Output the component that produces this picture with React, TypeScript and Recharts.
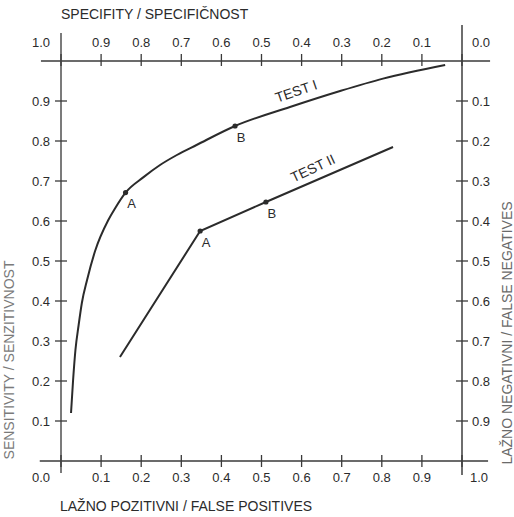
import React from "react";
import {
  ComposedChart,
  Line,
  Scatter,
  XAxis,
  YAxis,
  ReferenceLine,
  ReferenceDot,
} from "recharts";

// axis ticks
const fullTicks = [0, 0.1, 0.2, 0.3, 0.4, 0.5, 0.6, 0.7, 0.8, 0.9, 1];
const innerTicks = [0.1, 0.2, 0.3, 0.4, 0.5, 0.6, 0.7, 0.8, 0.9];

// Test I curve (false positives -> sensitivity)
const test1Fp = [0.025, 0.03, 0.036, 0.044, 0.052, 0.065, 0.085, 0.118, 0.135, 0.161, 0.205, 0.247, 0.289, 0.338, 0.434, 0.571, 0.696, 0.803, 0.958];
const test1Sens = [0.12, 0.2, 0.2775, 0.34, 0.395, 0.4525, 0.525, 0.6025, 0.632, 0.671, 0.709, 0.74, 0.765, 0.79, 0.8375, 0.885, 0.925, 0.956, 0.99];

// Test II polyline
const test2Fp = [0.147, 0.347, 0.511, 0.828];
const test2Sens = [0.26, 0.575, 0.6475, 0.785];

// marked cut-off points
const pointNames = ["A", "B"];
const test1PointFp = [0.161, 0.434];
const test1PointSens = [0.671, 0.8375];
const test2PointFp = [0.347, 0.511];
const test2PointSens = [0.575, 0.6475];

const font = '"Liberation Sans", Arial, Helvetica, sans-serif';
const ink = "#2b2b2b";
const axisInk = "#3a3a3a";

const test1Data = test1Fp.map((fp, i) => ({ fp, sens: test1Sens[i] }));
// Test II sits on the specificity / false-negative axes (1 - fp, 1 - sens)
const test2Data = test2Fp.map((fp, i) => ({ spec: 1 - fp, fn: 1 - test2Sens[i] }));
const test1Points = pointNames.map((name, i) => ({ fp: test1PointFp[i], sens: test1PointSens[i], name }));
const test2Points = pointNames.map((name, i) => ({ spec: 1 - test2PointFp[i], fn: 1 - test2PointSens[i], name }));

// cross ticks on the four frame lines
const bottomMarks = fullTicks.map((v) => ({ fp: v, sens: 0 }));
const topMarks = fullTicks.map((v) => ({ fp: v, sens: 1 }));
const leftMarks = innerTicks.map((v) => ({ fp: 0, sens: v }));
const rightMarks = innerTicks.map((v) => ({ fp: 1, sens: v }));

const fmt = (v: number) => v.toFixed(1);

const labelText = { fontSize: 13, fontFamily: font, fill: ink, dominantBaseline: "central" as const };

function BottomTick({ x, y, payload }: any) {
  const v = payload.value;
  const dx = v === 0 ? -20 : v === 1 ? 17 : 0;
  return (
    <text x={x + dx} y={y + 16} textAnchor="middle" {...labelText}>
      {fmt(v)}
    </text>
  );
}

function TopTick({ x, y, payload }: any) {
  const v = payload.value;
  const dx = v === 1 ? -20 : v === 0 ? 19 : 0;
  return (
    <text x={x + dx} y={y - 19} textAnchor="middle" {...labelText}>
      {fmt(v)}
    </text>
  );
}

function LeftTick({ x, y, payload }: any) {
  return (
    <text x={x - 11} y={y} textAnchor="end" {...labelText}>
      {fmt(payload.value)}
    </text>
  );
}

function RightTick({ x, y, payload }: any) {
  return (
    <text x={x + 10} y={y} textAnchor="start" {...labelText}>
      {fmt(payload.value)}
    </text>
  );
}

const vMark = ({ cx, cy }: any) => (
  <line x1={cx} x2={cx} y1={cy - 6} y2={cy + 6} stroke={axisInk} strokeWidth={1.3} />
);
const topMark = ({ cx, cy }: any) => (
  <line x1={cx} x2={cx} y1={cy - 7} y2={cy + 5} stroke={axisInk} strokeWidth={1.3} />
);
const hMark = ({ cx, cy }: any) => (
  <line x1={cx - 6} x2={cx + 6} y1={cy} y2={cy} stroke={axisInk} strokeWidth={1.3} />
);

function MarkedPoint({ cx, cy, payload }: any) {
  return (
    <g>
      <circle cx={cx} cy={cy} r={2.6} fill={ink} />
      <text x={cx + 6} y={cy + 11} textAnchor="middle" {...labelText}>
        {payload.name}
      </text>
    </g>
  );
}

const curveLabel = (text: string, angle: number) => ({ cx, cy }: any) => (
  <text
    x={cx}
    y={cy}
    textAnchor="middle"
    dominantBaseline="central"
    fontSize={14}
    fontFamily={font}
    fill={ink}
    transform={`rotate(${angle} ${cx} ${cy})`}
  >
    {text}
  </text>
);

export default function App() {
  return (
    <div style={{ position: "absolute", left: 0, top: 0, background: "#fff" }}>
      <ComposedChart width={514} height={517} margin={{ top: 0, right: 0, bottom: 0, left: 0 }}>
        <XAxis
          xAxisId="fp"
          dataKey="fp"
          type="number"
          domain={[0, 1]}
          ticks={fullTicks}
          orientation="bottom"
          height={56}
          axisLine={false}
          tickLine={false}
          tickSize={0}
          tickMargin={0}
          tick={<BottomTick />}
          interval={0}
        />
        <XAxis
          xAxisId="spec"
          dataKey="spec"
          type="number"
          domain={[0, 1]}
          reversed
          ticks={fullTicks}
          orientation="top"
          height={61}
          axisLine={false}
          tickLine={false}
          tickSize={0}
          tickMargin={0}
          tick={<TopTick />}
          interval={0}
        />
        <YAxis
          yAxisId="sens"
          dataKey="sens"
          type="number"
          domain={[0, 1]}
          ticks={innerTicks}
          orientation="left"
          width={61}
          axisLine={false}
          tickLine={false}
          tickSize={0}
          tickMargin={0}
          tick={<LeftTick />}
          interval={0}
        />
        <YAxis
          yAxisId="fn"
          dataKey="fn"
          type="number"
          domain={[0, 1]}
          reversed
          ticks={innerTicks}
          orientation="right"
          width={52}
          axisLine={false}
          tickLine={false}
          tickSize={0}
          tickMargin={0}
          tick={<RightTick />}
          interval={0}
        />

        {/* frame lines, running past the plot corners */}
        <ReferenceLine xAxisId="fp" yAxisId="sens" ifOverflow="visible" stroke={axisInk} strokeWidth={1.4}
          segment={[{ x: -0.053, y: 0 }, { x: 1.065, y: 0 }]} />
        <ReferenceLine xAxisId="fp" yAxisId="sens" ifOverflow="visible" stroke={axisInk} strokeWidth={1.4}
          segment={[{ x: -0.05, y: 1 }, { x: 1.07, y: 1 }]} />
        <ReferenceLine xAxisId="fp" yAxisId="sens" ifOverflow="visible" stroke="#5a5a5a" strokeWidth={1.6}
          segment={[{ x: 0, y: -0.03 }, { x: 0, y: 1.07 }]} />
        <ReferenceLine xAxisId="fp" yAxisId="sens" ifOverflow="visible" stroke="#4a4a4a" strokeWidth={1.6}
          segment={[{ x: 1, y: -0.035 }, { x: 1, y: 1.09 }]} />

        <Scatter xAxisId="fp" yAxisId="sens" data={bottomMarks} dataKey="sens" shape={vMark} isAnimationActive={false} />
        <Scatter xAxisId="fp" yAxisId="sens" data={topMarks} dataKey="sens" shape={topMark} isAnimationActive={false} />
        <Scatter xAxisId="fp" yAxisId="sens" data={leftMarks} dataKey="sens" shape={hMark} isAnimationActive={false} />
        <Scatter xAxisId="fp" yAxisId="sens" data={rightMarks} dataKey="sens" shape={hMark} isAnimationActive={false} />

        <Line xAxisId="fp" yAxisId="sens" data={test1Data} dataKey="sens" type="monotone"
          stroke={ink} strokeWidth={2} dot={false} activeDot={false} isAnimationActive={false} />
        <Line xAxisId="spec" yAxisId="fn" data={test2Data} dataKey="fn" type="linear"
          stroke={ink} strokeWidth={2} dot={false} activeDot={false} isAnimationActive={false} />
        <Scatter xAxisId="fp" yAxisId="sens" data={test1Points} dataKey="sens" shape={<MarkedPoint />} isAnimationActive={false} />
        <Scatter xAxisId="spec" yAxisId="fn" data={test2Points} dataKey="fn" shape={<MarkedPoint />} isAnimationActive={false} />

        <ReferenceDot xAxisId="fp" yAxisId="sens" x={0.586} y={0.925} ifOverflow="visible" shape={curveLabel("TEST I", -19)} />
        <ReferenceDot xAxisId="fp" yAxisId="sens" x={0.628} y={0.7325} ifOverflow="visible" shape={curveLabel("TEST II", -25)} />

        <text x={61} y={14} dominantBaseline="central" fontSize={14} fontFamily={font} fill={ink}>
          SPECIFITY / SPECIFIČNOST
        </text>
        <text x={60} y={506} dominantBaseline="central" fontSize={14} fontFamily={font} fill={ink}>
          LAŽNO POZITIVNI / FALSE POSITIVES
        </text>
        <text x={9} y={360} textAnchor="middle" dominantBaseline="central" fontSize={14} fontFamily={font}
          fill="#7a7a7a" transform="rotate(-90 9 360)">
          SENSITIVITY / SENZITIVNOST
        </text>
        <text x={507} y={333} textAnchor="middle" dominantBaseline="central" fontSize={14} fontFamily={font}
          fill="#6a6a6a" transform="rotate(-90 507 333)">
          LAŽNO NEGATIVNI / FALSE NEGATIVES
        </text>
      </ComposedChart>
    </div>
  );
}
